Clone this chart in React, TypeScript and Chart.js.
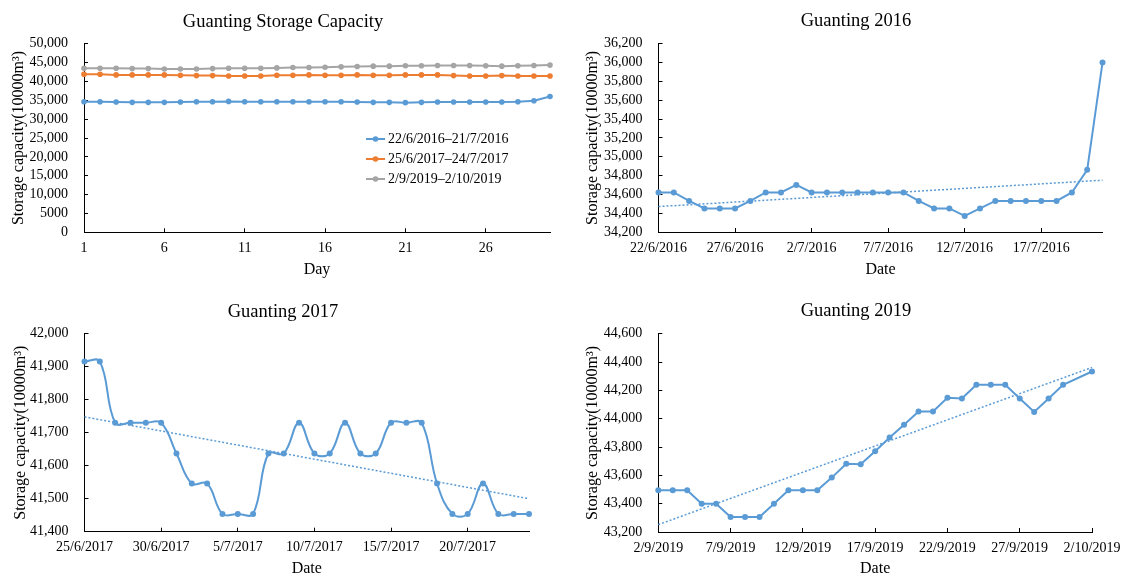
import React, { useEffect, useRef } from 'react';
import { Chart, registerables } from 'chart.js';

Chart.register(...registerables);

// ---- data ----
const days = ['1', '2', '3', '4', '5', '6', '7', '8', '9', '10', '11', '12', '13', '14', '15', '16', '17', '18', '19', '20', '21', '22', '23', '24', '25', '26', '27', '28', '29', '30'];

const dates2016 = ['22/6/2016', '23/6/2016', '24/6/2016', '25/6/2016', '26/6/2016', '27/6/2016', '28/6/2016', '29/6/2016', '30/6/2016', '1/7/2016', '2/7/2016', '3/7/2016', '4/7/2016', '5/7/2016', '6/7/2016', '7/7/2016', '8/7/2016', '9/7/2016', '10/7/2016', '11/7/2016', '12/7/2016', '13/7/2016', '14/7/2016', '15/7/2016', '16/7/2016', '17/7/2016', '18/7/2016', '19/7/2016', '20/7/2016', '21/7/2016'];
const dates2017 = ['25/6/2017', '26/6/2017', '27/6/2017', '28/6/2017', '29/6/2017', '30/6/2017', '1/7/2017', '2/7/2017', '3/7/2017', '4/7/2017', '5/7/2017', '6/7/2017', '7/7/2017', '8/7/2017', '9/7/2017', '10/7/2017', '11/7/2017', '12/7/2017', '13/7/2017', '14/7/2017', '15/7/2017', '16/7/2017', '17/7/2017', '18/7/2017', '19/7/2017', '20/7/2017', '21/7/2017', '22/7/2017', '23/7/2017', '24/7/2017'];
const dates2019 = ['2/9/2019', '3/9/2019', '4/9/2019', '5/9/2019', '6/9/2019', '7/9/2019', '8/9/2019', '9/9/2019', '10/9/2019', '11/9/2019', '12/9/2019', '13/9/2019', '14/9/2019', '15/9/2019', '16/9/2019', '17/9/2019', '18/9/2019', '19/9/2019', '20/9/2019', '21/9/2019', '22/9/2019', '23/9/2019', '24/9/2019', '25/9/2019', '26/9/2019', '27/9/2019', '28/9/2019', '29/9/2019', '30/9/2019', '1/10/2019', '2/10/2019'];

const storage2016 = [34620, 34620, 34530, 34450, 34450, 34450, 34530, 34620, 34620, 34700, 34620, 34620, 34620, 34620, 34620, 34620, 34620, 34530, 34450, 34450, 34370, 34450, 34530, 34530, 34530, 34530, 34530, 34620, 34860, 36000];
const storage2017 = [41916, 41916, 41730, 41730, 41730, 41730, 41637, 41546, 41546, 41454, 41454, 41454, 41637, 41637, 41730, 41637, 41637, 41730, 41637, 41637, 41730, 41730, 41730, 41546, 41454, 41454, 41546, 41454, 41454, 41454];
// no record on 1/10/2019
const storage2019: (number | null)[] = [43495, 43495, 43495, 43400, 43400, 43306, 43306, 43306, 43400, 43495, 43495, 43495, 43584, 43681, 43678, 43770, 43867, 43957, 44051, 44051, 44147, 44143, 44239, 44239, 44239, 44143, 44048, 44143, 44239, null, 44333];

// linear trend lines: value at first and last date
const trend2016 = [34470, 34750];
const trend2017 = [41748, 41500];
const trend2019 = [43252, 44362];

const seriesLabels = ['22/6/2016\u201321/7/2016', '25/6/2017\u201324/7/2017', '2/9/2019\u20132/10/2019'];

// ---- styling ----
const FONT = 'Liberation Serif';
const BLUE = '#5B9BD5';
const ORANGE = '#ED7D31';
const GRAY = '#A5A5A5';
const INK = '#000';
const W = 566;
const H = 289;
const Y_TITLE = 'Storage capacity(10000m\u00B3)';

const withComma = (v: number) => Number(v).toLocaleString('en-US');
const excelFormat = (v: number) => (Math.abs(v) >= 10000 ? withComma(v) : String(v));

// panel heading drawn centred at a fixed point
const headingPlugin = {
  id: 'heading',
  afterDraw(chart: any, _args: any, opts: any) {
    if (!opts || !opts.text) return;
    const ctx = chart.ctx;
    ctx.save();
    ctx.fillStyle = INK;
    ctx.font = `${opts.size}px "${FONT}"`;
    ctx.textAlign = 'center';
    ctx.textBaseline = 'alphabetic';
    ctx.fillText(opts.text, opts.x, opts.y);
    ctx.restore();
  },
};

// series key with line + marker swatches
const keyPlugin = {
  id: 'seriesKey',
  afterDraw(chart: any, _args: any, opts: any) {
    if (!opts || !opts.display) return;
    const ctx = chart.ctx;
    chart.data.datasets.forEach((ds: any, i: number) => {
      const y = opts.y + i * opts.gap;
      ctx.save();
      ctx.strokeStyle = ds.borderColor;
      ctx.lineWidth = 2;
      ctx.beginPath();
      ctx.moveTo(opts.x, y);
      ctx.lineTo(opts.x + opts.swatch, y);
      ctx.stroke();
      ctx.fillStyle = ds.borderColor;
      ctx.beginPath();
      ctx.arc(opts.x + opts.swatch / 2, y, 2.8, 0, Math.PI * 2);
      ctx.fill();
      ctx.fillStyle = INK;
      ctx.font = `${opts.size}px "${FONT}"`;
      ctx.textAlign = 'left';
      ctx.textBaseline = 'middle';
      ctx.fillText(ds.label, opts.x + opts.swatch + 3, y);
      ctx.restore();
    });
  },
};

type Frame = {
  left: number; right: number; top: number; bottom: number;
  heading: string; headingX: number; headingY: number;
  yMin: number; yMax: number; yStep: number; yFormat: (v: number) => string;
  yTitleCenter: number; xTitle: string; xTitleCenter: number;
};

function buildOptions(f: Frame, extraPlugins: any = {}) {
  const tickFont = { family: FONT, size: 14 };
  const titleFont = { family: FONT, size: 16 };
  return {
    responsive: false,
    animation: false,
    events: [],
    layout: { padding: { left: 0, right: W - f.right, top: f.top, bottom: 0 } },
    plugins: {
      legend: { display: false },
      tooltip: { enabled: false },
      title: { display: false },
      heading: { text: f.heading, x: f.headingX, y: f.headingY, size: 18.5 },
      ...extraPlugins,
    },
    scales: {
      x: {
        type: 'category',
        offset: false,
        grid: {
          drawOnChartArea: false,
          drawTicks: true,
          tickLength: -4,
          tickWidth: 1,
          tickColor: (c: any) => (c.index % 5 === 0 ? INK : 'rgba(0,0,0,0)'),
        },
        border: { display: true, color: INK, width: 1 },
        ticks: {
          autoSkip: false,
          maxRotation: 0,
          minRotation: 0,
          padding: 11.6,
          color: INK,
          font: tickFont,
          callback: function (this: any, v: any, i: number) {
            return i % 5 === 0 ? this.getLabelForValue(v) : '';
          },
        },
        title: {
          display: true,
          text: f.xTitle,
          color: INK,
          font: titleFont,
          padding: { top: 0, bottom: Math.max(0, H - f.xTitleCenter - 9.6) },
        },
        afterFit: (s: any) => { s.height = H - f.bottom; },
      },
      y: {
        min: f.yMin,
        max: f.yMax,
        grid: { drawOnChartArea: false, drawTicks: true, tickLength: -4, tickColor: INK, tickWidth: 1 },
        border: { display: true, color: INK, width: 1 },
        ticks: {
          stepSize: f.yStep,
          autoSkip: false,
          padding: 20,
          color: INK,
          font: tickFont,
          callback: (v: any) => f.yFormat(Number(v)),
        },
        title: {
          display: true,
          text: Y_TITLE,
          color: INK,
          font: titleFont,
          padding: { top: f.yTitleCenter - 9.6, bottom: 0 },
        },
        afterFit: (s: any) => { s.width = f.left; },
      },
    },
  };
}

const lineStyle = (color: string, radius = 3) => ({
  borderColor: color,
  backgroundColor: color,
  borderWidth: 2,
  pointRadius: radius,
  pointBorderWidth: 0,
  pointBackgroundColor: color,
  tension: 0,
});

const trendStyle = {
  borderColor: BLUE,
  borderWidth: 1.5,
  borderDash: [2, 2],
  pointRadius: 0,
  tension: 0,
  fill: false,
};

const trendPoints = (labels: string[], ends: number[]) => [
  { x: labels[0], y: ends[0] },
  { x: labels[labels.length - 1], y: ends[1] },
];

function overviewConfig() {
  return {
    type: 'line',
    data: {
      labels: days,
      datasets: [
        { label: seriesLabels[0], data: storage2016, ...lineStyle(BLUE, 2.8) },
        { label: seriesLabels[1], data: storage2017, ...lineStyle(ORANGE, 2.8) },
        { label: seriesLabels[2], data: storage2019.filter((v) => v !== null), ...lineStyle(GRAY, 2.8) },
      ],
    },
    options: buildOptions(
      {
        left: 84, right: 550, top: 43.7, bottom: 232.3,
        heading: 'Guanting Storage Capacity', headingX: 283, headingY: 26.5,
        yMin: 0, yMax: 50000, yStep: 5000, yFormat: excelFormat,
        yTitleCenter: 19, xTitle: 'Day', xTitleCenter: 270,
      },
      { seriesKey: { display: true, x: 366, y: 139, gap: 20, swatch: 19, size: 14 } },
    ),
    plugins: [headingPlugin, keyPlugin],
  };
}

function config2016() {
  return {
    type: 'line',
    data: {
      labels: dates2016,
      datasets: [
        { label: 'trend', data: trendPoints(dates2016, trend2016), ...trendStyle, order: 0 },
        { label: '2016', data: storage2016, ...lineStyle(BLUE), order: 1 },
      ],
    },
    options: buildOptions({
      left: 92.5, right: 536.5, top: 43.7, bottom: 232,
      heading: 'Guanting 2016', headingX: 290, headingY: 26,
      yMin: 34200, yMax: 36200, yStep: 200, yFormat: withComma,
      yTitleCenter: 27, xTitle: 'Date', xTitleCenter: 270,
    }),
    plugins: [headingPlugin],
  };
}

function config2017() {
  return {
    type: 'line',
    data: {
      labels: dates2017,
      datasets: [
        { label: 'trend', data: trendPoints(dates2017, trend2017), ...trendStyle, order: 0 },
        { label: '2017', data: storage2017, ...lineStyle(BLUE), tension: 0.4, order: 1 },
      ],
    },
    options: buildOptions({
      left: 84.5, right: 529, top: 44.7, bottom: 242.7,
      heading: 'Guanting 2017', headingX: 283, headingY: 27.5,
      yMin: 41400, yMax: 42000, yStep: 100, yFormat: withComma,
      yTitleCenter: 21, xTitle: 'Date', xTitleCenter: 279.3,
    }),
    plugins: [headingPlugin],
  };
}

function config2019() {
  return {
    type: 'line',
    data: {
      labels: dates2019,
      datasets: [
        { label: 'trend', data: trendPoints(dates2019, trend2019), ...trendStyle, order: 0 },
        { label: '2019', data: storage2019, ...lineStyle(BLUE), spanGaps: true, order: 1 },
      ],
    },
    options: buildOptions({
      left: 92.3, right: 536, top: 44.7, bottom: 243,
      heading: 'Guanting 2019', headingX: 290, headingY: 27,
      yMin: 43200, yMax: 44600, yStep: 200, yFormat: withComma,
      yTitleCenter: 27, xTitle: 'Date', xTitleCenter: 279.3,
    }),
    plugins: [headingPlugin],
  };
}

function Panel({ make, left, top }: { make: () => any; left: number; top: number }) {
  const ref = useRef<HTMLCanvasElement>(null);
  useEffect(() => {
    if (!ref.current) return;
    const chart = new Chart(ref.current, make());
    return () => chart.destroy();
  }, [make]);
  return (
    <canvas
      ref={ref}
      width={W}
      height={H}
      style={{ position: 'absolute', left, top, width: W, height: H, display: 'block' }}
    />
  );
}

export default function App() {
  return (
    <div style={{ position: 'absolute', left: 0, top: 0, width: 1132, height: 578, background: '#fff' }}>
      <Panel make={overviewConfig} left={0} top={0} />
      <Panel make={config2016} left={W} top={0} />
      <Panel make={config2017} left={0} top={H} />
      <Panel make={config2019} left={W} top={H} />
    </div>
  );
}
